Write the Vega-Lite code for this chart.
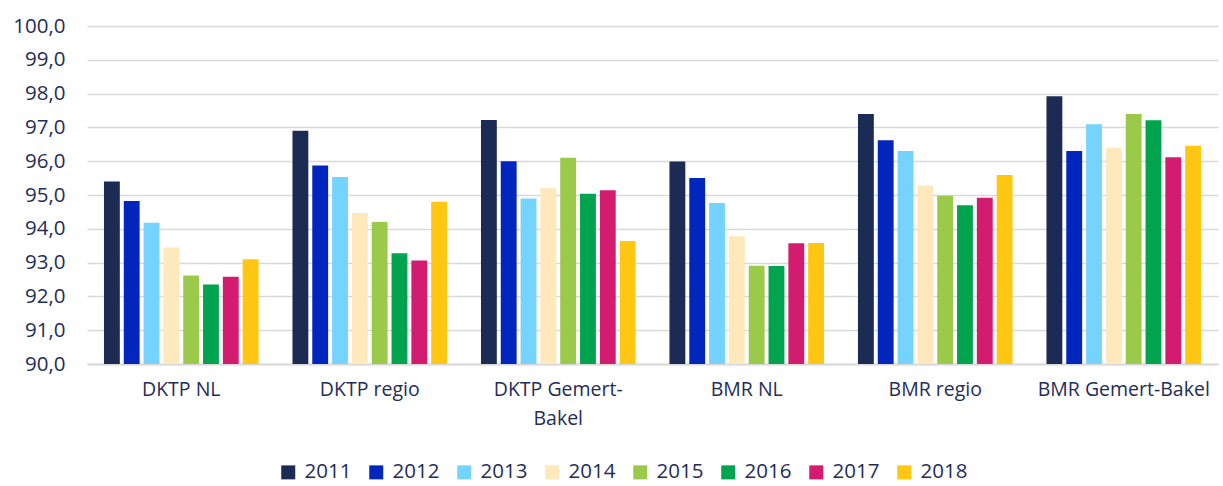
{
  "$schema": "https://vega.github.io/schema/vega-lite/v6.json",
  "width": 1131,
  "height": 338,
  "autosize": "none",
  "padding": {"left": 87, "top": 26, "right": 5, "bottom": 122},
  "background": "white",
  "config": {
    "view": {"stroke": null},
    "font": "Open Sans"
  },
  "data": {
    "values": [
      {"cat": "DKTP NL", "year": "2011", "value": 95.4},
      {"cat": "DKTP NL", "year": "2012", "value": 94.82},
      {"cat": "DKTP NL", "year": "2013", "value": 94.18},
      {"cat": "DKTP NL", "year": "2014", "value": 93.45},
      {"cat": "DKTP NL", "year": "2015", "value": 92.62},
      {"cat": "DKTP NL", "year": "2016", "value": 92.35},
      {"cat": "DKTP NL", "year": "2017", "value": 92.58},
      {"cat": "DKTP NL", "year": "2018", "value": 93.1},
      {"cat": "DKTP regio", "year": "2011", "value": 96.9},
      {"cat": "DKTP regio", "year": "2012", "value": 95.87},
      {"cat": "DKTP regio", "year": "2013", "value": 95.53},
      {"cat": "DKTP regio", "year": "2014", "value": 94.47},
      {"cat": "DKTP regio", "year": "2015", "value": 94.2},
      {"cat": "DKTP regio", "year": "2016", "value": 93.28},
      {"cat": "DKTP regio", "year": "2017", "value": 93.06},
      {"cat": "DKTP regio", "year": "2018", "value": 94.8},
      {"cat": "DKTP Gemert-Bakel", "year": "2011", "value": 97.22},
      {"cat": "DKTP Gemert-Bakel", "year": "2012", "value": 96.0},
      {"cat": "DKTP Gemert-Bakel", "year": "2013", "value": 94.9},
      {"cat": "DKTP Gemert-Bakel", "year": "2014", "value": 95.2},
      {"cat": "DKTP Gemert-Bakel", "year": "2015", "value": 96.1},
      {"cat": "DKTP Gemert-Bakel", "year": "2016", "value": 95.04},
      {"cat": "DKTP Gemert-Bakel", "year": "2017", "value": 95.14},
      {"cat": "DKTP Gemert-Bakel", "year": "2018", "value": 93.64},
      {"cat": "BMR NL", "year": "2011", "value": 95.99},
      {"cat": "BMR NL", "year": "2012", "value": 95.5},
      {"cat": "BMR NL", "year": "2013", "value": 94.76},
      {"cat": "BMR NL", "year": "2014", "value": 93.78},
      {"cat": "BMR NL", "year": "2015", "value": 92.91},
      {"cat": "BMR NL", "year": "2016", "value": 92.9},
      {"cat": "BMR NL", "year": "2017", "value": 93.57},
      {"cat": "BMR NL", "year": "2018", "value": 93.58},
      {"cat": "BMR regio", "year": "2011", "value": 97.4},
      {"cat": "BMR regio", "year": "2012", "value": 96.62},
      {"cat": "BMR regio", "year": "2013", "value": 96.3},
      {"cat": "BMR regio", "year": "2014", "value": 95.28},
      {"cat": "BMR regio", "year": "2015", "value": 94.98},
      {"cat": "BMR regio", "year": "2016", "value": 94.7},
      {"cat": "BMR regio", "year": "2017", "value": 94.92},
      {"cat": "BMR regio", "year": "2018", "value": 95.59},
      {"cat": "BMR Gemert-Bakel", "year": "2011", "value": 97.92},
      {"cat": "BMR Gemert-Bakel", "year": "2012", "value": 96.3},
      {"cat": "BMR Gemert-Bakel", "year": "2013", "value": 97.09},
      {"cat": "BMR Gemert-Bakel", "year": "2014", "value": 96.4},
      {"cat": "BMR Gemert-Bakel", "year": "2015", "value": 97.4},
      {"cat": "BMR Gemert-Bakel", "year": "2016", "value": 97.21},
      {"cat": "BMR Gemert-Bakel", "year": "2017", "value": 96.12},
      {"cat": "BMR Gemert-Bakel", "year": "2018", "value": 96.46}
    ]
  },
  "mark": {"type": "bar", "clip": true},
  "encoding": {
    "x": {
      "field": "cat",
      "type": "nominal",
      "sort": ["DKTP NL", "DKTP regio", "DKTP Gemert-Bakel", "BMR NL", "BMR regio", "BMR Gemert-Bakel"],
      "scale": {"paddingInner": 0.18, "paddingOuter": 0.09},
      "axis": {
        "title": null,
        "labelAngle": 0,
        "ticks": false,
        "domainColor": "#D9D9D9",
        "domainWidth": 2,
        "labelColor": "#1F2D5A",
        "labelFont": "Open Sans",
        "labelFontSize": 19.5,
        "labelPadding": 16,
        "labelLimit": 300,
        "labelLineHeight": 29,
        "labelExpr": "datum.label == 'DKTP Gemert-Bakel' ? ['DKTP Gemert-', 'Bakel'] : datum.label"
      }
    },
    "xOffset": {
      "field": "year",
      "type": "nominal",
      "scale": {"paddingInner": 0.2, "paddingOuter": 0}
    },
    "y": {
      "field": "value",
      "type": "quantitative",
      "scale": {"domain": [90, 100], "nice": false, "zero": false},
      "axis": {
        "title": null,
        "values": [90, 91, 92, 93, 94, 95, 96, 97, 98, 99, 100],
        "labelExpr": "replace(format(datum.value, '.1f'), '.', ',')",
        "ticks": false,
        "domain": false,
        "gridColor": "#D9D9D9",
        "gridWidth": 1.5,
        "labelColor": "#1F2D5A",
        "labelFont": "Open Sans",
        "labelFontSize": 20.5,
        "labelPadding": 22
      }
    },
    "color": {
      "field": "year",
      "type": "nominal",
      "scale": {
        "domain": ["2011", "2012", "2013", "2014", "2015", "2016", "2017", "2018"],
        "range": ["#1C2B54", "#0026BE", "#75D4FF", "#FFE8BC", "#9BC94A", "#00A44E", "#D31B6F", "#FFC711"]
      },
      "legend": {
        "title": null,
        "orient": "none",
        "direction": "horizontal",
        "columns": 8,
        "legendX": 191,
        "legendY": 436,
        "symbolType": "square",
        "symbolSize": 196,
        "symbolStrokeWidth": 0,
        "labelFont": "Open Sans",
        "labelFontSize": 20.5,
        "labelColor": "#1F2D5A",
        "labelOffset": 6,
        "columnPadding": 14
      }
    }
  }
}
